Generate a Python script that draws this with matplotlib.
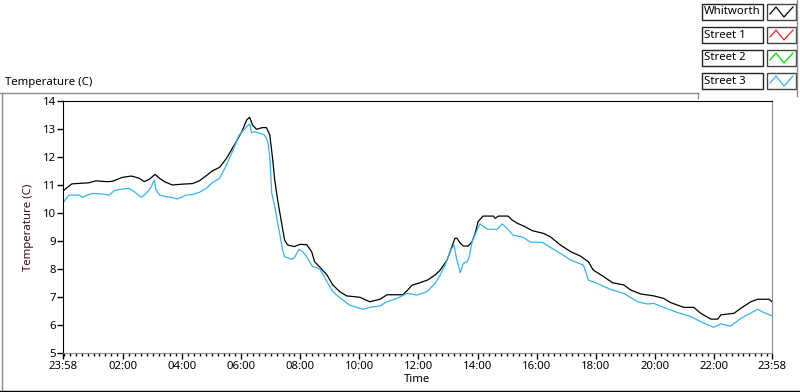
import numpy as np
import matplotlib
matplotlib.use("Agg")
import matplotlib.pyplot as plt
from matplotlib.lines import Line2D
from matplotlib.patches import Rectangle
from matplotlib.ticker import FixedLocator, MultipleLocator

# time in minutes since midnight, the log starts at 23:58 of the day before (-2)
whit_t = [-2, 16, 51, 65, 86, 98, 118, 137, 153, 163, 173, 185, 194, 204, 220, 240,
          261, 275, 291, 301, 316, 330, 346, 361, 371, 377, 383, 391, 403, 411, 418,
          424, 428, 434, 442, 448, 454, 468, 479, 493, 503, 509, 519, 534, 546, 560,
          574, 601, 621, 642, 656, 688, 697, 707, 723, 739, 754, 764, 778, 788, 794,
          798, 805, 811, 821, 829, 835, 841, 851, 872, 876, 882, 902, 910, 921, 933,
          951, 974, 988, 1008, 1029, 1049, 1065, 1075, 1096, 1114, 1137, 1151, 1171,
          1198, 1218, 1232, 1259, 1279, 1293, 1314, 1328, 1334, 1361, 1375, 1395,
          1409, 1432, 1438]
whit_v = [10.79, 11.04, 11.08, 11.15, 11.12, 11.13, 11.27, 11.32, 11.24, 11.12, 11.2,
          11.38, 11.24, 11.12, 11.0, 11.03, 11.05, 11.15, 11.36, 11.5, 11.63, 11.95,
          12.43, 12.9, 13.32, 13.42, 13.14, 12.99, 13.05, 13.05, 12.79, 11.9, 11.18,
          10.46, 9.64, 9.04, 8.86, 8.8, 8.88, 8.87, 8.62, 8.26, 8.08, 7.79, 7.43, 7.19,
          7.04, 6.99, 6.83, 6.92, 7.08, 7.08, 7.23, 7.42, 7.51, 7.61, 7.79, 7.96, 8.32,
          8.8, 9.1, 9.1, 8.92, 8.82, 8.82, 8.98, 9.27, 9.69, 9.89, 9.89, 9.81, 9.89,
          9.89, 9.75, 9.63, 9.54, 9.37, 9.27, 9.15, 8.86, 8.62, 8.46, 8.26, 7.96, 7.73,
          7.51, 7.43, 7.25, 7.11, 7.04, 6.95, 6.8, 6.63, 6.63, 6.42, 6.21, 6.21, 6.36,
          6.42, 6.6, 6.83, 6.92, 6.92, 6.83]

st3_t = [-2, 10, 31, 37, 57, 77, 92, 102, 116, 132, 143, 157, 167, 177, 183, 187, 194,
         208, 220, 230, 249, 261, 275, 289, 301, 316, 330, 342, 356, 371, 377, 381,
         387, 397, 407, 414, 418, 422, 428, 438, 444, 448, 462, 468, 477, 485, 495,
         505, 519, 534, 546, 560, 580, 607, 621, 642, 656, 676, 697, 717, 737, 754,
         764, 774, 784, 792, 798, 805, 811, 819, 823, 829, 839, 845, 860, 880, 890,
         900, 912, 933, 947, 972, 988, 1008, 1029, 1055, 1065, 1090, 1110, 1137, 1165,
         1185, 1198, 1218, 1247, 1273, 1300, 1320, 1334, 1354, 1375, 1409, 1422, 1438]
st3_v = [10.37, 10.64, 10.64, 10.56, 10.7, 10.68, 10.64, 10.8, 10.85, 10.88, 10.76,
         10.56, 10.7, 10.93, 11.18, 10.82, 10.64, 10.58, 10.55, 10.5, 10.64, 10.66,
         10.74, 10.88, 11.08, 11.24, 11.71, 12.19, 12.79, 13.08, 13.18, 12.87, 12.9,
         12.85, 12.79, 12.55, 12.0, 10.7, 10.23, 9.27, 8.68, 8.44, 8.35, 8.4, 8.7,
         8.62, 8.38, 8.08, 8.02, 7.55, 7.19, 6.98, 6.71, 6.56, 6.63, 6.68, 6.83, 6.95,
         7.13, 7.07, 7.19, 7.49, 7.79, 8.14, 8.62, 8.86, 8.32, 7.87, 8.2, 8.26, 8.44,
         8.98, 9.39, 9.61, 9.42, 9.42, 9.61, 9.45, 9.21, 9.13, 8.96, 8.95, 8.77, 8.56,
         8.32, 8.14, 7.61, 7.43, 7.27, 7.13, 6.83, 6.75, 6.77, 6.63, 6.44, 6.3, 6.06,
         5.92, 6.04, 5.96, 6.24, 6.56, 6.44, 6.33]

legend_names = ["Whitworth", "Street 1", "Street 2", "Street 3"]
legend_colors = ["#000000", "#ff2020", "#00dd00", "#33b5f0"]

xtick_pos = [-2, 120, 240, 360, 480, 600, 720, 840, 960, 1080, 1200, 1320, 1438]
xtick_lab = ["23:58", "02:00", "04:00", "06:00", "08:00", "10:00", "12:00",
             "14:00", "16:00", "18:00", "20:00", "22:00", "23:58"]
yticks = list(range(5, 15))

plt.rcParams["font.family"] = ["Noto Sans", "DejaVu Sans"]
plt.rcParams["font.size"] = 8

W, H = 800, 392
fig = plt.figure(figsize=(W / 100, H / 100), dpi=100)
fig.patch.set_facecolor("white")

ax = fig.add_axes([63 / W, 1 - 353 / H, (772 - 63) / W, (353 - 101) / H])
ax.plot(whit_t, whit_v, color=legend_colors[0], lw=0.9)
ax.plot(st3_t, st3_v, color=legend_colors[3], lw=0.9)

ax.set_xlim(-2, 1438)
ax.set_ylim(5, 14)
ax.xaxis.set_major_locator(FixedLocator(xtick_pos))
ax.set_xticklabels(xtick_lab)
ax.xaxis.set_minor_locator(MultipleLocator(12))
ax.set_yticks(yticks)
ax.tick_params(axis="x", which="major", length=4, width=1, pad=2, labelsize=8.2)
ax.tick_params(axis="x", which="minor", length=2.5, width=1)
ax.tick_params(axis="y", length=4, width=1, pad=1, labelsize=8.2)
for s in ["left", "top"]:
    ax.spines[s].set_color("black")
for s in ["right", "bottom"]:
    ax.spines[s].set_color("#8c8c8c")
ax.set_xlabel("Time", fontsize=8.2, labelpad=1)
ax.set_ylabel("Temperature (C)", fontsize=8.2, color="#3a1010", labelpad=6)

# outer graph frame
def px_line(x0, y0, x1, y1, color="#8c8c8c", lw=1):
    fig.add_artist(Line2D([x0 / W, x1 / W], [1 - y0 / H, 1 - y1 / H],
                          color=color, lw=lw, transform=fig.transFigure))

px_line(0, 92.5, 698, 92.5)
px_line(698, 92.5, 698, 98)
px_line(2, 92.5, 2, 391)
px_line(0, 391, 800, 391, color="black")
px_line(797, 0, 797, 96)

fig.text(5 / W, 1 - 82 / H, "Temperature (C)", fontsize=8.2, va="center", ha="left")

# legend panel
rows_y = [4, 27, 50, 73]
for name, col, y0 in zip(legend_names, legend_colors, rows_y):
    fig.add_artist(Rectangle((702 / W, 1 - (y0 + 16) / H), 61 / W, 16 / H,
                             transform=fig.transFigure, fill=False, ec="#222222", lw=1))
    fig.text(704 / W, 1 - (y0 + 8) / H, name, fontsize=8.2, va="center", ha="left")
    fig.add_artist(Rectangle((767 / W, 1 - (y0 + 16) / H), 29 / W, 16 / H,
                             transform=fig.transFigure, fill=False, ec="#444444", lw=1))
    ix = np.array([770, 776, 784, 793]) / W
    iy = 1 - (y0 + np.array([10, 3, 13, 3])) / H
    fig.add_artist(Line2D(ix, iy, color=col, lw=0.9, transform=fig.transFigure))

fig.savefig("out.png", dpi=100)
